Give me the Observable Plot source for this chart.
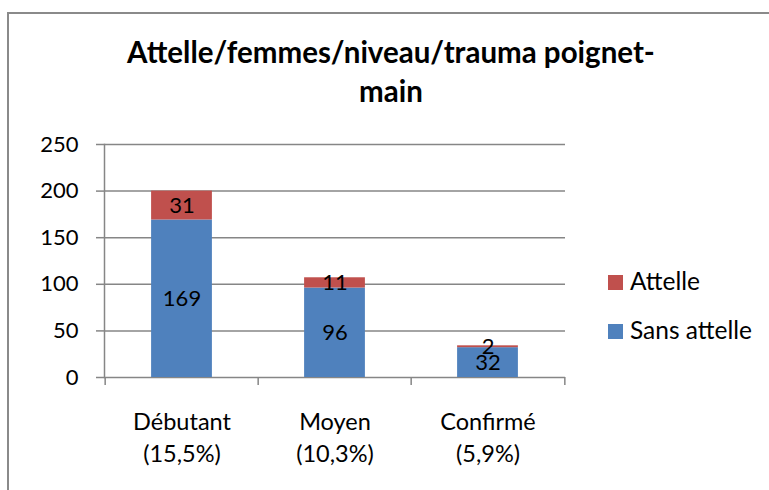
<!DOCTYPE html>
<html>
<head>
<meta charset="utf-8">
<script src="https://cdn.jsdelivr.net/npm/d3@7"></script>
<script src="https://cdn.jsdelivr.net/npm/@observablehq/plot@0.6"></script>
<style>
  html, body { margin: 0; padding: 0; background: #fff; overflow: hidden; }
  #wrap { position: relative; width: 769px; height: 490px; overflow: hidden; font-family: Lato, "Open Sans", sans-serif; }
  #border { position: absolute; left: 7px; top: 12px; width: 900px; height: 700px; border-left: 2px solid #8a8a8a; border-top: 2px solid #8a8a8a; box-sizing: border-box; }
  #chart { position: absolute; left: 0; top: 0; }
  #title { position: absolute; left: 91px; width: 600px; top: 32px; text-align: center; font-weight: bold; font-size: 29.5px; line-height: 39px; color: #000; white-space: nowrap; }
  .leg { position: absolute; left: 608px; display: flex; align-items: flex-start; font-size: 24.5px; line-height: 24px; color: #000; white-space: nowrap; }
  .sw { width: 15px; height: 15px; margin-right: 7px; margin-top: 6px; }
</style>
</head>
<body>
<div id="wrap">
  <div id="border"></div>
  <div id="chart"></div>
  <div id="title"></div>
  <div id="legend"></div>
</div>
<script>
const titleLines = ["Attelle/femmes/niveau/trauma poignet-", "main"];
const categories = ["Débutant", "Moyen", "Confirmé"];
const percents = ["(15,5%)", "(10,3%)", "(5,9%)"];
const seriesNames = ["Sans attelle", "Attelle"];
const sansAttelle = [169, 96, 32];
const attelle = [31, 11, 2];
const colors = ["#4F81BD", "#C0504D"];
const yTicks = [0, 50, 100, 150, 200, 250];

const data = categories.flatMap((c, i) => [
  {cat: c, series: seriesNames[0], value: sansAttelle[i]},
  {cat: c, series: seriesNames[1], value: attelle[i]}
]);

const W = 769, H = 490, ML = 104, MR = 204, MT = 144, MB = 113;
const step = (W - ML - MR) / categories.length;
const inset = step * 0.3;
const grey = "#868686";

const chart = Plot.plot({
  width: W, height: H,
  marginLeft: ML, marginRight: MR, marginTop: MT, marginBottom: MB,
  style: {fontFamily: "Lato, 'Open Sans', sans-serif", fontSize: "22px", color: "#000", background: "transparent", overflow: "visible"},
  x: {domain: categories, padding: 0, label: null},
  y: {domain: [0, 250], ticks: yTicks, label: null},
  color: {domain: seriesNames, range: colors},
  marks: [
    Plot.gridY(yTicks, {stroke: grey, strokeOpacity: 1, strokeWidth: 1.5}),
    Plot.frame({anchor: "left", stroke: grey, strokeWidth: 1.5}),
    Plot.axisY(yTicks, {tickSize: 8, tickPadding: 18, stroke: grey, strokeWidth: 1.5, fill: "#000", label: null, fontSize: 22}),
    Plot.ruleX(categories, {x: d => d, dx: -step / 2, y1: 0, y2: 0, insetBottom: -8, stroke: grey, strokeWidth: 1.5}),
    Plot.ruleX(categories.slice(-1), {x: d => d, dx: step / 2, y1: 0, y2: 0, insetBottom: -8, stroke: grey, strokeWidth: 1.5}),
    Plot.barY(data, {x: "cat", y: "value", fill: "series", insetLeft: inset, insetRight: inset}),
    Plot.text(data, Plot.stackY({x: "cat", y: "value", z: "series", text: d => String(d.value), fill: "#000", fontSize: 22})),
    Plot.axisX({tickSize: 0, tickPadding: 30, label: null, fontSize: 23.5, lineHeight: 1.36,
      tickFormat: d => d + "\n" + percents[categories.indexOf(d)]})
  ]
});
document.getElementById("chart").appendChild(chart);

document.getElementById("title").innerHTML = titleLines.join("<br>");

const legend = document.getElementById("legend");
[[1, 269], [0, 318]].forEach(([i, top]) => {
  const row = document.createElement("div");
  row.className = "leg";
  row.style.top = top + "px";
  row.innerHTML = `<span class="sw" style="background:${colors[i]}"></span><span>${seriesNames[i]}</span>`;
  legend.appendChild(row);
});
</script>
</body>
</html>
